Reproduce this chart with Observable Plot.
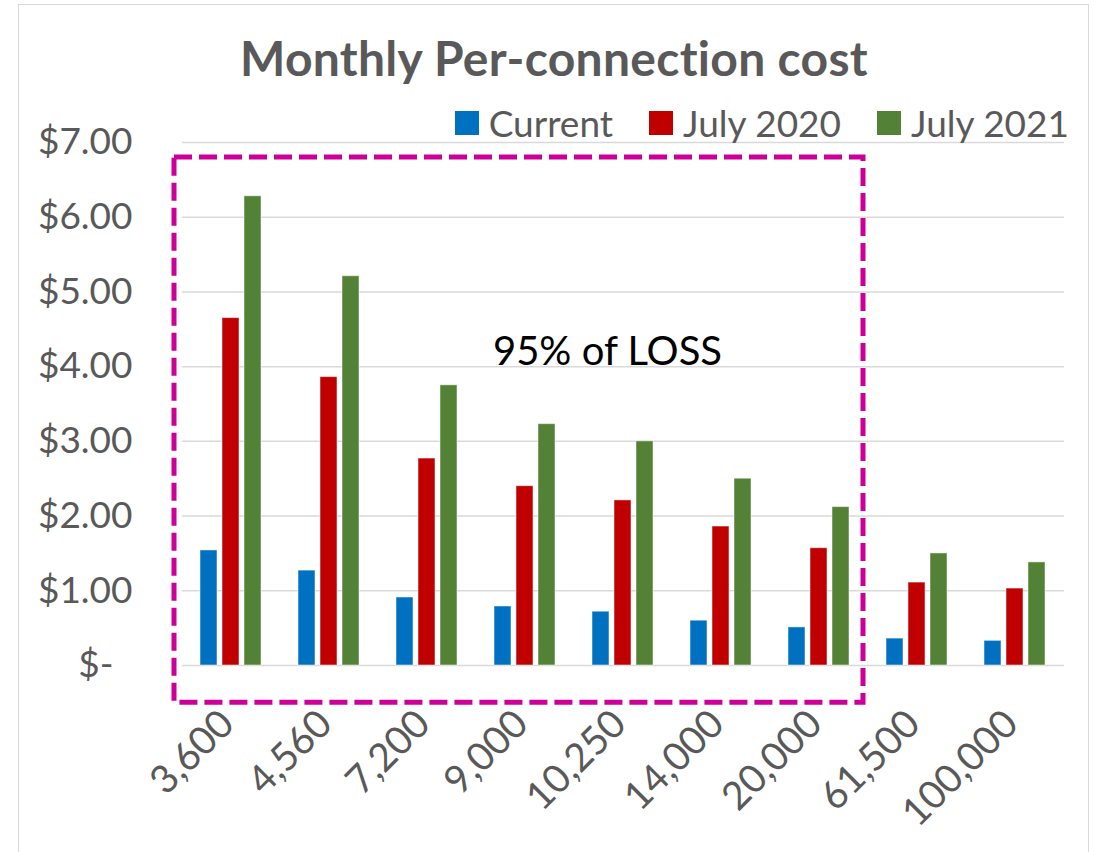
<!DOCTYPE html>
<html>
<head>
<meta charset="utf-8">
<script src="https://cdn.jsdelivr.net/npm/d3@7"></script>
<script src="https://cdn.jsdelivr.net/npm/@observablehq/plot@0.6"></script>
<style>
  html, body { margin: 0; padding: 0; background: #fff; }
  #wrap { position: relative; width: 1099px; height: 852px; overflow: hidden; font-family: Lato, "Open Sans", sans-serif; }
  #frame { position: absolute; left: 18px; top: 4px; width: 1071px; height: 900px; border: 1.5px solid #d9d9d9; box-sizing: border-box; }
  #title { position: absolute; left: 18px; width: 1072px; top: 30px; text-align: center; font-size: 48px; font-weight: bold; color: #595959; line-height: 56px; letter-spacing: 0.3px; }
  #legend { position: absolute; right: 30px; top: 101px; display: flex; gap: 36px; font-size: 37px; line-height: 44px; color: #595959; }
  #legend .item { display: flex; align-items: center; gap: 10px; }
  #legend .sw { width: 24px; height: 24px; display: inline-block; }
  #chart { position: absolute; left: 0; top: 0; }
</style>
</head>
<body>
<div id="wrap">
  <div id="frame"></div>
  <div id="chart"></div>
  <div id="title">Monthly Per-connection cost</div>
  <div id="legend"></div>
</div>
<script>
const categories = ["3,600", "4,560", "7,200", "9,000", "10,250", "14,000", "20,000", "61,500", "100,000"];
const series = ["Current", "July 2020", "July 2021"];
const current  = [1.54, 1.27, 0.91, 0.79, 0.72, 0.60, 0.51, 0.36, 0.33];
const july2020 = [4.65, 3.86, 2.77, 2.40, 2.21, 1.86, 1.57, 1.11, 1.03];
const july2021 = [6.28, 5.21, 3.75, 3.23, 3.00, 2.50, 2.12, 1.50, 1.38];
const colors = ["#0070C0", "#C00000", "#538135"];
const yTicks = [0, 1, 2, 3, 4, 5, 6, 7];
const annotation = "95% of LOSS";
const lossCategories = categories.slice(0, 7);

const seriesValues = [current, july2020, july2021];
const data = [];
categories.forEach((c, i) => {
  series.forEach((s, j) => data.push({category: c, series: s, value: seriesValues[j][i]}));
});

const plot = Plot.plot({
  width: 1099,
  height: 852,
  marginLeft: 178,
  marginRight: 31,
  marginTop: 142,
  marginBottom: 187,
  style: {fontFamily: "Lato, 'Open Sans', sans-serif", color: "#595959", background: "transparent", overflow: "visible"},
  fx: {domain: categories, padding: 0, label: null, axis: null},
  x: {domain: series, axis: null, paddingInner: 0.223, paddingOuter: 0.82},
  y: {domain: [0, 7], label: null},
  color: {domain: series, range: colors},
  marks: [
    Plot.ruleY(yTicks, {stroke: "#d9d9d9", strokeWidth: 1.5}),
    Plot.barY(data, {fx: "category", x: "series", y: "value", fill: "series", stroke: "#ffffff", strokeOpacity: 0.5, strokeWidth: 1}),
    Plot.axisY({ticks: yTicks, tickSize: 0, tickPadding: 50, fontSize: 37, label: null,
      tickFormat: d => d === 0 ? "$-\u00a0\u00a0" : "$" + d.toFixed(2)}),
    Plot.axisFx({anchor: "bottom", tickRotate: -45, tickSize: 0, tickPadding: 52, fontSize: 39, label: null, dx: -4}),
    Plot.text([annotation], {fx: () => "10,250", y: () => 4.2, text: d => d, fontSize: 40, fill: "#000", dx: -16})
  ]
});
document.getElementById("chart").appendChild(plot);

// dashed annotation box around the first seven categories
const fxs = plot.scale("fx"), ys = plot.scale("y");
const bx1 = fxs.apply(lossCategories[0]) - 8;
const bx2 = fxs.apply(lossCategories[lossCategories.length - 1]) + fxs.bandwidth - 5;
const by1 = ys.apply(6.8), by2 = ys.apply(-0.5);
d3.select(plot).append("rect")
  .attr("x", bx1).attr("y", by1)
  .attr("width", bx2 - bx1).attr("height", by2 - by1)
  .attr("fill", "none").attr("stroke", "#CC0099").attr("stroke-width", 5)
  .attr("stroke-dasharray", "18 7");

// legend
const legend = d3.select("#legend");
series.forEach((s, i) => {
  const it = legend.append("div").attr("class", "item");
  it.append("span").attr("class", "sw").style("background", colors[i]);
  it.append("span").text(s);
});
</script>
</body>
</html>
